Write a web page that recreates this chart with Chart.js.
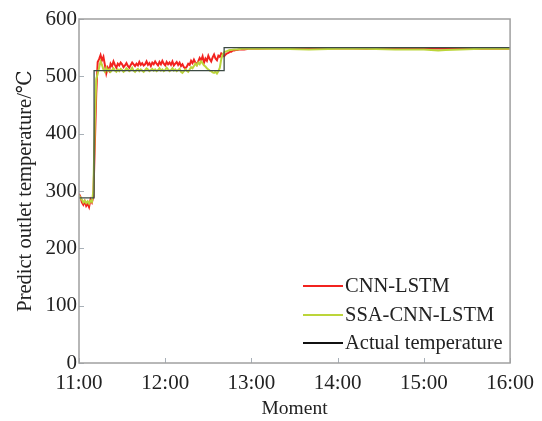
<!DOCTYPE html>
<html>
<head>
<meta charset="utf-8">
<script src="https://cdn.jsdelivr.net/npm/chart.js@4"></script>
<style>
  html, body { margin: 0; padding: 0; background: #fff; }
  #wrap { width: 542px; height: 421px; }
</style>
</head>
<body>
<div id="wrap"><canvas id="chart"></canvas></div>
<script>
// minutes after 11:00
const xTicks = [0, 60, 120, 180, 240, 300];
const xTickLabels = ["11:00", "12:00", "13:00", "14:00", "15:00", "16:00"];
const yTicks = [0, 100, 200, 300, 400, 500, 600];

const actualTime = [0, 10.5, 10.5, 101, 101, 300];
const actualTemp = [288, 288, 510, 510, 550, 550];

const cnnTime = [
  0, 1, 2, 3, 4, 5, 6, 7, 8, 9, 10, 11, 12, 13, 14, 15, 16, 17, 18, 19,
  20, 21, 22, 23, 24, 25, 26, 27, 28, 29, 30, 31, 32, 33, 34, 35, 36, 37, 38, 39,
  40, 41, 42, 43, 44, 45, 46, 47, 48, 49, 50, 51, 52, 53, 54, 55, 56, 57, 58, 59,
  60, 61, 62, 63, 64, 65, 66, 67, 68, 69, 70, 71, 72, 73, 74, 75, 76, 77, 78, 79,
  80, 81, 82, 83, 84, 85, 86, 87, 88, 89, 90, 91, 92, 93, 94, 95, 96, 97, 98, 99,
  100, 101, 102, 103, 104, 105, 106, 107, 108, 109, 110, 112, 115, 118,
  125, 140, 160, 180, 200, 220, 240, 260, 280, 300
];
const cnnTemp = [
  295, 290, 280, 276, 282, 274, 278, 272, 285, 280, 290, 380, 470, 525, 530, 537, 528, 534, 520, 505,
  515, 510, 522, 518, 526, 520, 515, 522, 519, 524, 521, 516, 519, 523, 518, 515, 520, 524, 521, 518,
  522, 519, 525, 520, 523, 519, 521, 526, 520, 523, 518, 524, 521, 526, 522, 519, 525, 521, 527, 522,
  519, 525, 521, 524, 520, 526, 519, 522, 525, 520, 524, 518, 521, 516, 514, 517, 522, 520, 527, 523,
  529, 524, 520, 526, 532, 528, 535, 524, 531, 527, 536, 530, 526, 533, 538, 531, 528, 536, 534, 540,
  538, 535, 538, 540, 541, 543, 543, 545, 545, 546, 546, 547, 547, 548,
  548, 549, 548, 549, 548, 548, 549, 548, 548, 548
];

const ssaTime = [
  0, 1, 2, 3, 4, 5, 6, 7, 8, 9, 10, 11, 12, 13, 14, 15, 16, 17, 18, 19,
  20, 21, 22, 23, 24, 25, 26, 27, 28, 29, 30, 31, 32, 33, 34, 35, 36, 37, 38, 39,
  40, 41, 42, 43, 44, 45, 46, 47, 48, 49, 50, 51, 52, 53, 54, 55, 56, 57, 58, 59,
  60, 61, 62, 63, 64, 65, 66, 67, 68, 69, 70, 71, 72, 73, 74, 75, 76, 77, 78, 79,
  80, 81, 82, 83, 84, 85, 86, 87, 88, 89, 90, 91, 92, 93, 94, 95, 96, 97, 98, 99,
  100, 101, 102, 103, 104, 105, 106, 108, 110, 113, 118,
  140, 160, 180, 200, 220, 240, 250, 255, 265, 280, 300
];
const ssaTemp = [
  292, 288, 285, 280, 283, 279, 282, 278, 283, 281, 300, 420, 495, 505, 515, 526, 520, 512, 508, 515,
  509, 512, 508, 511, 514, 510, 508, 512, 509, 513, 511, 508, 510, 514, 512, 509, 511, 515, 510, 508,
  511, 513, 509, 512, 510, 508, 511, 514, 512, 509, 511, 513, 510, 512, 509, 511, 514, 510, 512, 509,
  511, 515, 512, 509, 511, 514, 510, 512, 509, 511, 513, 508, 506, 509, 512, 510, 508, 512, 516, 514,
  518, 522, 519, 524, 521, 526, 523, 519, 517, 514, 512, 510, 509, 507, 506, 508, 505, 509, 515, 530,
  538, 542, 543, 544, 545, 546, 546, 547, 547, 548, 548,
  548, 547, 548, 548, 547, 547, 545, 546, 547, 548, 548
];

const pts = (xs, ys) => xs.map((x, i) => ({ x: x, y: ys[i] }));
const serif = '"Liberation Serif", "DejaVu Serif", serif';

// frame, inward ticks and legend drawn inside the plot area
const framePlugin = {
  id: "frame",
  afterDatasetsDraw(chart) {
    const { ctx, chartArea: a, scales } = chart;
    ctx.save();
    ctx.strokeStyle = "#a8b0b8";
    ctx.lineWidth = 1;
    xTicks.forEach((v) => {
      const px = Math.round(scales.x.getPixelForValue(v)) + 0.5;
      ctx.beginPath();
      ctx.moveTo(px, a.bottom);
      ctx.lineTo(px, a.bottom - 5);
      ctx.stroke();
    });
    yTicks.forEach((v) => {
      const py = Math.round(scales.y.getPixelForValue(v)) + 0.5;
      ctx.beginPath();
      ctx.moveTo(a.left, py);
      ctx.lineTo(a.left + 5, py);
      ctx.stroke();
    });
    ctx.strokeStyle = "#a0a0a0";
    ctx.lineWidth = 1.5;
    ctx.strokeRect(a.left, a.top, a.right - a.left, a.bottom - a.top);

    // legend
    const rows = [286, 315, 343];
    ctx.font = "20.5px " + serif;
    ctx.textBaseline = "middle";
    ctx.textAlign = "left";
    chart.data.datasets.forEach((ds, i) => {
      ctx.strokeStyle = ds.legendColor;
      ctx.lineWidth = 2;
      ctx.beginPath();
      ctx.moveTo(303, rows[i]);
      ctx.lineTo(343, rows[i]);
      ctx.stroke();
      ctx.fillStyle = "#222";
      ctx.fillText(ds.label, 345, rows[i] + 1);
    });
    ctx.restore();
  },
};

new Chart(document.getElementById("chart"), {
  type: "line",
  data: {
    datasets: [
      {
        label: "CNN-LSTM",
        data: pts(cnnTime, cnnTemp),
        borderColor: "#f2231f",
        legendColor: "#f2231f",
        borderWidth: 2,
        order: 2,
      },
      {
        label: "SSA-CNN-LSTM",
        data: pts(ssaTime, ssaTemp),
        borderColor: "#bcd53a",
        legendColor: "#bcd53a",
        borderWidth: 2,
        order: 1,
      },
      {
        label: "Actual temperature",
        data: pts(actualTime, actualTemp),
        borderColor: "#3c4a44",
        legendColor: "#111",
        borderWidth: 1.3,
        order: 0,
      },
    ],
  },
  options: {
    responsive: true,
    maintainAspectRatio: false,
    animation: false,
    layout: { padding: { top: 19, right: 31, left: 0, bottom: 0 } },
    elements: {
      point: { radius: 0 },
      line: { tension: 0 },
    },
    plugins: {
      legend: { display: false },
      tooltip: { enabled: false },
    },
    scales: {
      x: {
        type: "linear",
        min: 0,
        max: 300,
        afterBuildTicks: (scale) => {
          scale.ticks = xTicks.map((v) => ({ value: v }));
        },
        afterFit: (scale) => {
          scale.height = 58;
        },
        grid: { display: false, drawTicks: false },
        border: { display: false },
        ticks: {
          padding: 8,
          maxRotation: 0,
          color: "#222",
          font: { family: serif, size: 21 },
          callback: (v) => xTickLabels[xTicks.indexOf(v)],
        },
        title: {
          display: true,
          text: "Moment",
          color: "#222",
          font: { family: serif, size: 19.5 },
          padding: { top: 4, bottom: 0 },
        },
      },
      y: {
        min: 0,
        max: 600,
        afterBuildTicks: (scale) => {
          scale.ticks = yTicks.map((v) => ({ value: v }));
        },
        afterFit: (scale) => {
          scale.width = 79;
        },
        grid: { display: false, drawTicks: false },
        border: { display: false },
        ticks: {
          padding: 2,
          color: "#222",
          font: { family: serif, size: 21 },
        },
        title: {
          display: true,
          text: "Predict outlet temperature/℃",
          color: "#222",
          font: { family: serif, size: 20.5 },
          padding: { top: 13, bottom: 4 },
        },
      },
    },
  },
  plugins: [framePlugin],
});
</script>
</body>
</html>
